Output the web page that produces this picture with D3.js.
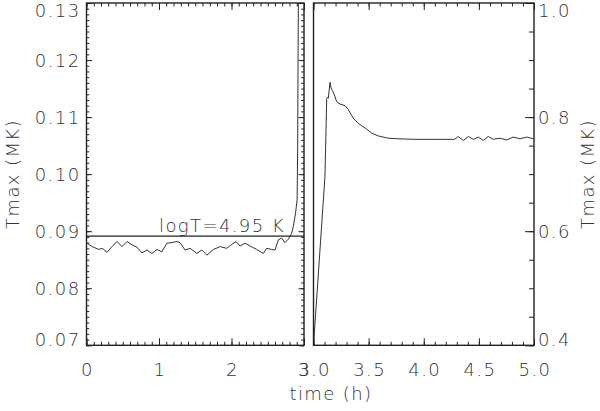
<!DOCTYPE html>
<html><head><meta charset="utf-8">
<script src="https://cdn.jsdelivr.net/npm/d3@7"></script>
<style>
body{margin:0;background:#fff}
text{font-family:"DejaVu Sans",sans-serif;font-weight:200;fill:#333;letter-spacing:1.4px}
</style>
</head><body>
<svg id="c" width="600" height="411"></svg>
<script>
// ---- data ----
const tLeft = [0.01,0.078,0.169,0.216,0.284,0.353,0.421,0.49,0.559,0.627,0.696,0.765,0.834,0.902,0.971,1.04,1.109,1.177,1.246,1.29,1.36,1.43,1.522,1.591,1.66,1.751,1.843,1.935,2.004,2.063,2.118,2.187,2.256,2.348,2.439,2.485,2.554,2.6,2.646,2.692,2.737,2.783,2.829,2.852,2.884,2.905,2.913,2.918,2.925];
const TLeft = [0.0879,0.0873,0.0868,0.0870,0.0863,0.0873,0.0882,0.0873,0.0882,0.0876,0.0872,0.0862,0.0867,0.0861,0.0868,0.0864,0.0879,0.0880,0.0882,0.0880,0.0867,0.0870,0.0861,0.0867,0.0858,0.0868,0.0873,0.0870,0.0877,0.0882,0.0874,0.0879,0.0874,0.0868,0.0861,0.0870,0.0868,0.0867,0.0885,0.0888,0.0880,0.0886,0.0896,0.0908,0.0932,0.0955,0.1050,0.1200,0.1350];
const tRight = [3.0,3.104,3.12,3.129,3.134,3.15,3.159,3.171,3.189,3.21,3.24,3.286,3.316,3.361,3.406,3.467,3.528,3.588,3.678,3.769,3.92,4.1,4.28,4.313,4.359,4.404,4.45,4.495,4.54,4.585,4.63,4.69,4.752,4.812,4.873,4.934,4.994];
const TRight = [0.40,0.696,0.833,0.835,0.833,0.861,0.851,0.847,0.839,0.827,0.823,0.820,0.813,0.798,0.789,0.781,0.772,0.767,0.763,0.762,0.761,0.761,0.761,0.766,0.759,0.766,0.761,0.765,0.759,0.766,0.761,0.763,0.760,0.765,0.762,0.765,0.762];
const leftXTicks = [0,1,2,3];
const leftYTicks = [0.07,0.08,0.09,0.10,0.11,0.12,0.13];
const rightXTicks = [3.0,3.5,4.0,4.5,5.0];
const rightYTicks = [0.4,0.6,0.8,1.0];
const logT = 4.95;
const refLabel = "logT=4.95 K";
const xTitle = "time (h)";
const yTitle = "Tmax (MK)";

// ---- layout ----
const svg = d3.select("#c");
const yTop = 3, yBot = 345.3;
const xL = d3.scaleLinear().domain([0,3]).range([86.5,304]);
const yL = d3.scaleLinear().domain([0.07,0.13]).range([yBot,yTop]);
const xR = d3.scaleLinear().domain([3,5]).range([313.5,534]);
const yR = d3.scaleLinear().domain([0.4,1.0]).range([yBot,yTop]);
const ink = "#222";

function ticks(g, axis, vals, len){
  const a = g.append("g").call(axis.tickValues(vals).tickSize(-len).tickFormat(""));
  a.select(".domain").remove();
  a.selectAll("line").attr("stroke",ink).attr("stroke-width",1);
}
function minor(domain, step){
  const n = Math.round((domain[1]-domain[0])/step);
  return d3.range(n+1).map(i=>domain[0]+i*step);
}

// clip paths
const defs = svg.append("defs");
defs.append("clipPath").attr("id","cl").append("rect")
  .attr("x",xL.range()[0]).attr("y",yTop).attr("width",xL.range()[1]-xL.range()[0]).attr("height",yBot-yTop);
defs.append("clipPath").attr("id","cr").append("rect")
  .attr("x",xR.range()[0]).attr("y",yTop).attr("width",xR.range()[1]-xR.range()[0]).attr("height",yBot-yTop);

// ---- left panel ----
const gL = svg.append("g");
ticks(gL.append("g").attr("transform",`translate(0,${yBot})`), d3.axisBottom(xL), minor([0,3],0.1), 3.5);
ticks(gL.append("g").attr("transform",`translate(0,${yBot})`), d3.axisBottom(xL), leftXTicks, 7);
ticks(gL.append("g").attr("transform",`translate(0,${yTop})`), d3.axisTop(xL), minor([0,3],0.1), 3.5);
ticks(gL.append("g").attr("transform",`translate(0,${yTop})`), d3.axisTop(xL), leftXTicks, 7);
ticks(gL.append("g").attr("transform",`translate(${xL.range()[0]},0)`), d3.axisLeft(yL), minor([0.07,0.13],0.001), 2.8);
ticks(gL.append("g").attr("transform",`translate(${xL.range()[0]},0)`), d3.axisLeft(yL), leftYTicks, 5.5);
ticks(gL.append("g").attr("transform",`translate(${xL.range()[1]},0)`), d3.axisRight(yL), minor([0.07,0.13],0.001), 2.8);
ticks(gL.append("g").attr("transform",`translate(${xL.range()[1]},0)`), d3.axisRight(yL), leftYTicks, 5.5);

const lineL = d3.line().x((d,i)=>xL(tLeft[i])).y(d=>yL(d));
gL.append("path").datum(TLeft).attr("d",lineL).attr("clip-path","url(#cl)")
  .attr("fill","none").attr("stroke","#333").attr("stroke-width",1);

const refT = Math.pow(10,logT)/1e6;
gL.append("line").attr("x1",xL.range()[0]).attr("x2",xL.range()[1])
  .attr("y1",yL(refT)).attr("y2",yL(refT)).attr("stroke",ink).attr("stroke-width",1.2);
gL.append("text").attr("x",xL(1.0)).attr("y",yL(refT)-4.5).attr("font-size",18).text(refLabel);

gL.append("rect").attr("x",xL.range()[0]).attr("y",yTop)
  .attr("width",xL.range()[1]-xL.range()[0]).attr("height",yBot-yTop)
  .attr("fill","none").attr("stroke",ink).attr("stroke-width",1.4);

// ---- right panel ----
const gR = svg.append("g");
ticks(gR.append("g").attr("transform",`translate(0,${yBot})`), d3.axisBottom(xR), minor([3,5],0.1), 3.5);
ticks(gR.append("g").attr("transform",`translate(0,${yBot})`), d3.axisBottom(xR), rightXTicks, 7);
ticks(gR.append("g").attr("transform",`translate(0,${yTop})`), d3.axisTop(xR), minor([3,5],0.1), 3.5);
ticks(gR.append("g").attr("transform",`translate(0,${yTop})`), d3.axisTop(xR), rightXTicks, 7);
ticks(gR.append("g").attr("transform",`translate(${xR.range()[1]},0)`), d3.axisRight(yR), minor([0.4,1.0],0.05), 5);
ticks(gR.append("g").attr("transform",`translate(${xR.range()[1]},0)`), d3.axisRight(yR), rightYTicks, 9);

const lineR = d3.line().x((d,i)=>xR(tRight[i])).y(d=>yR(d));
gR.append("path").datum(TRight).attr("d",lineR).attr("clip-path","url(#cr)")
  .attr("fill","none").attr("stroke","#333").attr("stroke-width",1);

gR.append("rect").attr("x",xR.range()[0]).attr("y",yTop)
  .attr("width",xR.range()[1]-xR.range()[0]).attr("height",yBot-yTop)
  .attr("fill","none").attr("stroke",ink).attr("stroke-width",1.4);

// ---- labels ----
const clampY = y => Math.max(11, Math.min(340, y));
const fs = 18;
svg.append("g").selectAll("text").data(leftYTicks).join("text")
  .attr("x",xL.range()[0]-6).attr("y",d=>clampY(yL(d))).attr("dy","0.36em")
  .attr("text-anchor","end").attr("font-size",fs).text(d=>d3.format(".2f")(d));
svg.append("g").selectAll("text").data(rightYTicks).join("text")
  .attr("x",xR.range()[1]+4).attr("y",d=>clampY(yR(d))).attr("dy","0.36em")
  .attr("text-anchor","start").attr("font-size",fs).text(d=>d3.format(".1f")(d));
svg.append("g").selectAll("text").data(leftXTicks).join("text")
  .attr("x",d=>xL(d)+1).attr("y",375.5).attr("text-anchor","middle").attr("font-size",fs).text(d=>d3.format("d")(d));
svg.append("g").selectAll("text").data(rightXTicks).join("text")
  .attr("x",d=>xR(d)+1).attr("y",375.5).attr("text-anchor","middle").attr("font-size",fs).text(d=>d3.format(".1f")(d));

svg.append("text").attr("x",331).attr("y",400).attr("text-anchor","middle").attr("font-size",fs).text(xTitle);
svg.append("text").attr("transform","translate(19,174) rotate(-90)").attr("text-anchor","middle").attr("font-size",fs).text(yTitle);
svg.append("text").attr("transform","translate(594,174) rotate(-90)").attr("text-anchor","middle").attr("font-size",fs).text(yTitle);
</script>
</body></html>
